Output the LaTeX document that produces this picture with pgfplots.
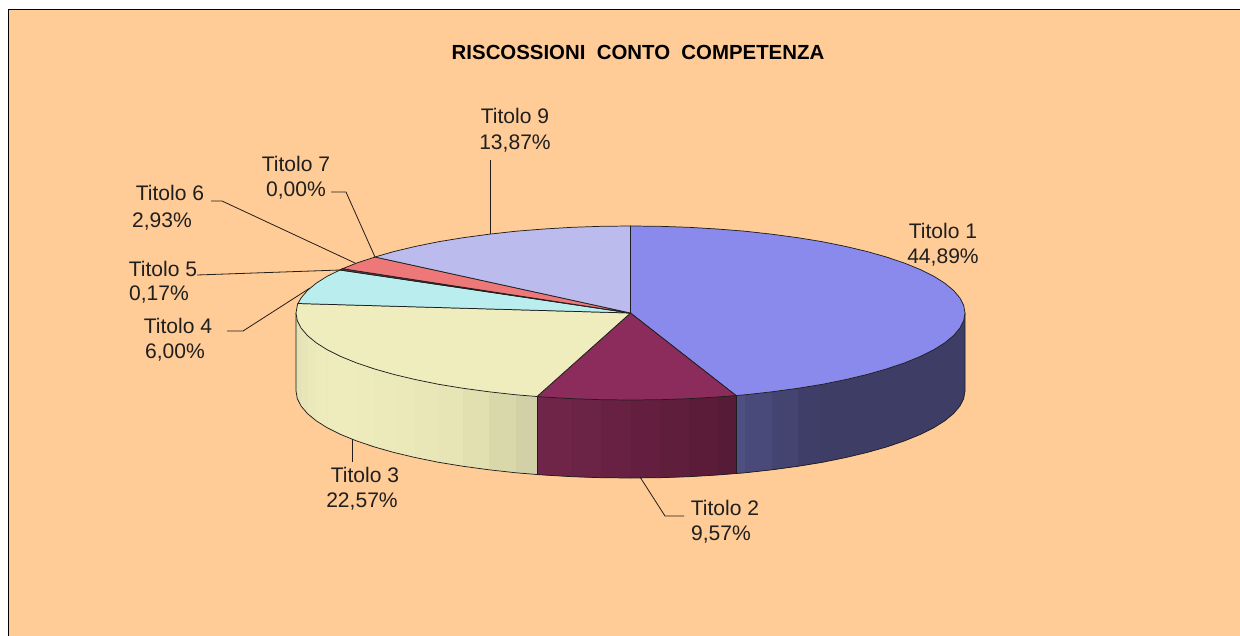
\documentclass[border=0pt]{standalone}
\usepackage{pgfplots}
\pgfplotsset{compat=1.18}
\usepackage{fontspec}
\setmainfont{Liberation Sans}
\definecolor{bgc}{RGB}{255,203,150}
\definecolor{edge}{RGB}{30,30,30}
\definecolor{lead}{RGB}{35,30,25}
\newcommand{\strip}[9]{\addplot[fill={rgb,255:red,#1;green,#2;blue,#3},draw=none] coordinates {(#4,#5)(#6,#7)(#6,#9)(#4,#8)} --cycle;}
\newcommand{\lab}[4]{\node[font=\fontsize{15.8}{18}\selectfont,text=black!88,inner sep=0pt,anchor=center] at (axis cs:#1,#2) {#3};}
\begin{document}
\begin{tikzpicture}
\begin{axis}[
  scale only axis, width=930pt, height=477pt,
  xmin=0, xmax=1240, ymin=0, ymax=636, y dir=reverse,
  axis lines=none, clip=true,
]
% background and frame
\addplot[fill=white,draw=none] coordinates {(0,0)(1240,0)(1240,636)(0,636)} --cycle;
\addplot[fill=bgc,draw=none] coordinates {(9,10)(1240,10)(1240,636)(9,636)} --cycle;
\addplot[draw=black,line width=0.9pt] coordinates {(8.5,636)(8.5,9.5)(1240,9.5)};
% base faces of the sides
\addplot[fill={rgb,255:red,62;green,61;blue,102},draw=none] coordinates {(965,313)(965,391)(963.7,398.6)(959.9,406.1)(953.6,413.5)(944.8,420.8)(933.7,427.8)(920.2,434.5)(904.5,440.9)(886.7,446.9)(867,452.5)(845.5,457.6)(822.4,462.3)(797.8,466.3)(771.9,469.8)(744.9,472.8)(736,473.5)(736,395.5)} --cycle;
\addplot[fill={rgb,255:red,100;green,32;blue,64},draw=none] coordinates {(736,395.5)(736,473.5)(717.1,475)(688.6,476.7)(659.7,477.7)(630.5,478)(601.3,477.7)(572.4,476.7)(543.9,475)(537,474.5)(537,396.5)(630.5,400)} --cycle;
\addplot[fill={rgb,255:red,232;green,230;blue,183},draw=none] coordinates {(537,396.5)(537,474.5)(516.1,472.8)(489.1,469.8)(463.2,466.3)(438.6,462.3)(415.5,457.6)(394,452.5)(374.3,446.9)(356.5,440.9)(340.8,434.5)(327.3,427.8)(316.2,420.8)(307.4,413.5)(301.1,406.1)(297.3,398.6)(296,391)(296,313)(340.8,356.5)} --cycle;
% side of Titolo 1
\strip{62}{62}{104}{822.4}{384.3}{797.8}{388.3}{462.3}{466.3}
\strip{67}{68}{112}{797.8}{388.3}{771.9}{391.8}{466.3}{469.8}
\strip{73}{74}{121}{771.9}{391.8}{744.9}{394.8}{469.8}{472.8}
\strip{79}{80}{130}{744.9}{394.8}{736}{395.5}{472.8}{473.5}
% side of Titolo 2
\strip{86}{27}{54}{736}{395.5}{717.1}{397}{473.5}{475}
\strip{90}{28}{57}{717.1}{397}{688.6}{398.7}{475}{476.7}
\strip{95}{30}{60}{688.6}{398.7}{659.7}{399.7}{476.7}{477.7}
\strip{100}{31}{64}{659.7}{399.7}{630.5}{400}{477.7}{478}
\strip{104}{33}{67}{630.5}{400}{601.3}{399.7}{478}{477.7}
\strip{107}{35}{70}{601.3}{399.7}{572.4}{398.7}{477.7}{476.7}
\strip{110}{37}{72}{572.4}{398.7}{543.9}{397}{476.7}{475}
\strip{112}{38}{74}{543.9}{397}{537}{396.5}{475}{474.5}
% side of Titolo 3
\strip{209}{208}{166}{537}{396.5}{516.1}{394.8}{474.5}{472.8}
\strip{217}{216}{171}{516.1}{394.8}{489.1}{391.8}{472.8}{469.8}
\strip{226}{224}{177}{489.1}{391.8}{463.2}{388.3}{469.8}{466.3}
\strip{231}{229}{181}{463.2}{388.3}{438.6}{384.3}{466.3}{462.3}
\strip{233}{231}{183}{438.6}{384.3}{415.5}{379.6}{462.3}{457.6}
\strip{235}{233}{185}{415.5}{379.6}{394}{374.5}{457.6}{452.5}
\strip{236}{234}{186}{394}{374.5}{374.3}{368.9}{452.5}{446.9}
\strip{237}{235}{187}{374.3}{368.9}{356.5}{362.9}{446.9}{440.9}
\strip{238}{236}{189}{356.5}{362.9}{340.8}{356.5}{440.9}{434.5}
\strip{238}{236}{189}{340.8}{356.5}{327.3}{349.8}{434.5}{427.8}
\strip{237}{235}{188}{327.3}{349.8}{316.2}{342.8}{427.8}{420.8}
\strip{235}{233}{187}{316.2}{342.8}{307.4}{335.5}{420.8}{413.5}
\strip{232}{230}{185}{307.4}{335.5}{301.1}{328.1}{413.5}{406.1}
\strip{228}{226}{182}{301.1}{328.1}{297.3}{320.6}{406.1}{398.6}
\strip{222}{220}{178}{297.3}{320.6}{296}{313}{398.6}{391}
% side outlines
\addplot[draw=edge,line width=0.55pt] coordinates {(965,313)(965,391)(963.7,398.6)(959.9,406.1)(953.6,413.5)(944.8,420.8)(933.7,427.8)(920.2,434.5)(904.5,440.9)(886.7,446.9)(867,452.5)(845.5,457.6)(822.4,462.3)(797.8,466.3)(771.9,469.8)(744.9,472.8)(736,473.5)(717.1,475)(688.6,476.7)(659.7,477.7)(630.5,478)(601.3,477.7)(572.4,476.7)(543.9,475)(537,474.5)(516.1,472.8)(489.1,469.8)(463.2,466.3)(438.6,462.3)(415.5,457.6)(394,452.5)(374.3,446.9)(356.5,440.9)(340.8,434.5)(327.3,427.8)(316.2,420.8)(307.4,413.5)(301.1,406.1)(297.3,398.6)(296,391)(296,313)};
\addplot[draw=edge,line width=0.55pt] coordinates {(736,395.5)(736,473.5)};
\addplot[draw=edge,line width=0.55pt] coordinates {(537,396.5)(537,474.5)};
% top faces
\addplot[fill={rgb,255:red,138;green,138;blue,236},draw=edge,line width=0.55pt] coordinates {(630.5,313)(630.5,226)(659.7,226.3)(688.6,227.3)(717.1,229)(744.9,231.2)(771.9,234.2)(797.8,237.7)(822.4,241.7)(845.5,246.4)(867,251.5)(886.7,257.1)(904.5,263.1)(920.2,269.5)(933.7,276.2)(944.8,283.2)(953.6,290.5)(959.9,297.9)(963.7,305.4)(965,313)(963.7,320.6)(959.9,328.1)(953.6,335.5)(944.8,342.8)(933.7,349.8)(920.2,356.5)(904.5,362.9)(886.7,368.9)(867,374.5)(845.5,379.6)(822.4,384.3)(797.8,388.3)(771.9,391.8)(744.9,394.8)(736,395.5)} --cycle;
\addplot[fill={rgb,255:red,139;green,44;blue,92},draw=edge,line width=0.55pt] coordinates {(630.5,313)(736,395.5)(717.1,397)(688.6,398.7)(659.7,399.7)(630.5,400)(601.3,399.7)(572.4,398.7)(543.9,397)(537,396.5)} --cycle;
\addplot[fill={rgb,255:red,239;green,236;blue,189},draw=edge,line width=0.55pt] coordinates {(630.5,313)(537,396.5)(516.1,394.8)(489.1,391.8)(463.2,388.3)(438.6,384.3)(415.5,379.6)(394,374.5)(374.3,368.9)(356.5,362.9)(340.8,356.5)(327.3,349.8)(316.2,342.8)(307.4,335.5)(301.1,328.1)(297.3,320.6)(296,313)(297.3,305.4)(298,303.5)} --cycle;
\addplot[fill={rgb,255:red,186;green,237;blue,238},draw=edge,line width=0.55pt] coordinates {(630.5,313)(298,303.5)(301.1,297.9)(307.4,290.5)(316.2,283.2)(327.3,276.2)(340,270)} --cycle;
\addplot[fill={rgb,255:red,100;green,60;blue,70},draw=edge,line width=0.55pt] coordinates {(630.5,313)(340,270)(342.5,268.7)} --cycle;
\addplot[fill={rgb,255:red,238;green,119;blue,119},draw=edge,line width=0.55pt] coordinates {(630.5,313)(342.5,268.7)(356.5,263.1)(375,257)} --cycle;
\addplot[fill={rgb,255:red,187;green,187;blue,238},draw=edge,line width=0.55pt] coordinates {(630.5,313)(375,257)(394,251.5)(415.5,246.4)(438.6,241.7)(463.2,237.7)(489.1,234.2)(516.1,231.2)(543.9,229)(572.4,227.3)(601.3,226.3)(630.5,226)} --cycle;
% leader lines
\addplot[draw=lead,line width=0.6pt] coordinates {(490.5,160)(490.5,233.5)};
\addplot[draw=lead,line width=0.6pt] coordinates {(331,192)(346,192)(375,257)};
\addplot[draw=lead,line width=0.6pt] coordinates {(211,201)(222,201)(355,263)};
\addplot[draw=lead,line width=0.6pt] coordinates {(197,275)(340,270)};
\addplot[draw=lead,line width=0.6pt] coordinates {(227,331)(243,331)(310,288)};
\addplot[draw=lead,line width=0.6pt] coordinates {(352,462)(352,439)};
\addplot[draw=lead,line width=0.6pt] coordinates {(684,516)(665,516)(640,477)};
% texts
\node[font=\fontsize{15.3}{18}\selectfont\bfseries,text=black,inner sep=0pt,anchor=center] at (axis cs:638,52) {RISCOSSIONI\ \ CONTO\ \ COMPETENZA};
\lab{943}{231}{Titolo 1}{}
\lab{943}{257}{44,89\%}{}
\lab{725}{508}{Titolo 2}{}
\lab{721}{534}{9,57\%}{}
\lab{365}{475}{Titolo 3}{}
\lab{362}{501}{22,57\%}{}
\lab{178}{326}{Titolo 4}{}
\lab{175}{352}{6,00\%}{}
\lab{163}{269}{Titolo 5}{}
\lab{159}{294}{0,17\%}{}
\lab{170}{193}{Titolo 6}{}
\lab{162}{221}{2,93\%}{}
\lab{296}{164}{Titolo 7}{}
\lab{296}{190}{0,00\%}{}
\lab{515}{116}{Titolo 9}{}
\lab{515}{143}{13,87\%}{}
\end{axis}
\end{tikzpicture}
\end{document}
